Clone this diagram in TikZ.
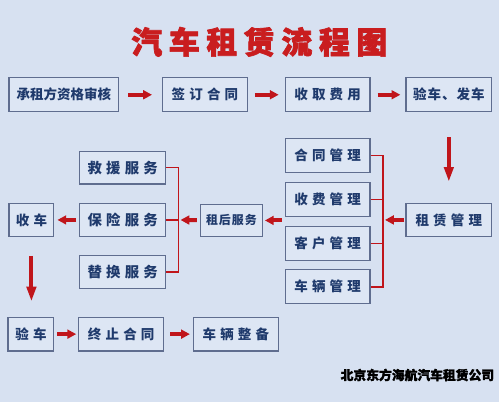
\documentclass[tikz,border=0pt]{standalone}
\usepackage{fontspec}
\setmainfont{Noto Sans CJK SC}
\usetikzlibrary{arrows.meta}
\definecolor{pagebg}{HTML}{D7E1F1}
\definecolor{boxfill}{HTML}{DDE6F4}
\definecolor{boxline}{HTML}{5F6D8F}
\definecolor{boxtext}{HTML}{1F3A6C}
\definecolor{flowred}{HTML}{C0151B}
\definecolor{titlered}{HTML}{C91D1F}
\newcommand{\gp}{\hspace{0.084cm}}
\newcommand{\tg}{\hspace{0.134cm}}
\newcommand{\inkbold}[2]{\special{pdf:literal direct 1 j #1 w 2 Tr}#2\special{pdf:literal direct 0 Tr}}

\begin{document}
\begin{tikzpicture}[
  x=0.02cm, y=-0.02cm,
  stage/.style={rectangle, draw=boxline, fill=boxfill, line width=0.7pt,
                minimum width=1.7cm, minimum height=0.68cm, inner sep=0pt,
                text=boxtext, font=\fontsize{7.7pt}{9pt}\selectfont\bfseries},
  service/.style={stage, minimum width=1.72cm, minimum height=0.66cm,
                  font=\fontsize{8.2pt}{9pt}\selectfont\bfseries},
  headline/.style={font=\fontsize{17.6pt}{20pt}\selectfont\bfseries,
                   text=titlered, inner sep=0pt},
  flow/.style={flowred, line width=2.3pt, -{Triangle[length=5pt, width=5pt]}},
  drop/.style={flowred, line width=2.3pt, -{Triangle[length=8.5pt, width=5.2pt]}},
  bracket/.style={flowred, line width=0.9pt}
]
  \fill[pagebg] (0,0) rectangle (500,403);

  \node[headline] (title) at (260,42)
    {\inkbold{0.4}{汽\tg 车\tg 租\tg 赁\tg 流\tg 程\tg 图}};

  \node[stage, minimum width=2.2cm] (vetting) at (64,95) {承租方资格审核};
  \node[stage] (signing) at (205.5,95) {签\gp 订\gp 合\gp 同};
  \node[stage] (payment) at (328.5,95) {收\gp 取\gp 费\gp 用};
  \node[stage, minimum width=1.72cm] (handover) at (450,95)
    {验\hspace{0.02cm}车\hspace{0.02cm}、\hspace{0.02cm}发\hspace{0.02cm}车};

  \node[stage, minimum width=1.72cm, minimum height=0.66cm] (leasing) at (450,220.5)
    {租\gp 赁\gp 管\gp 理};
  \node[stage] (contract) at (328.5,156) {合\gp 同\gp 管\gp 理};
  \node[stage] (billing) at (328.5,200) {收\gp 费\gp 管\gp 理};
  \node[stage] (clients) at (328.5,244) {客\gp 户\gp 管\gp 理};
  \node[stage] (fleet) at (328.5,287.5) {车\gp 辆\gp 管\gp 理};
  \node[stage, minimum width=1.24cm, minimum height=0.64cm,
        font=\fontsize{6.8pt}{8pt}\selectfont\bfseries] (aftercare) at (232,221)
    {租\hspace{0.02cm}后\hspace{0.02cm}服\hspace{0.02cm}务};

  \node[service] (rescue) at (123,168) {救\gp 援\gp 服\gp 务};
  \node[service] (insurance) at (123,220.5) {保\gp 险\gp 服\gp 务};
  \node[service] (swap) at (123,272.5) {替\gp 换\gp 服\gp 务};
  \node[stage, minimum width=0.9cm, minimum height=0.66cm] (pickup) at (31.5,220.5)
    {收\gp 车};

  \node[stage, minimum width=0.92cm] (inspect) at (31,335) {验\gp 车};
  \node[stage] (closing) at (121.5,335) {终\gp 止\gp 合\gp 同};
  \node[stage] (prep) at (236.5,335) {车\gp 辆\gp 整\gp 备};

  \coordinate (rjoin) at (384,220.5);
  \coordinate (ljoin) at (179,220.5);

  \draw[flow, shorten <=0.18cm, shorten >=0.2cm] (vetting) -- (signing);
  \draw[flow, shorten <=0.14cm, shorten >=0.12cm] (signing) -- (payment);
  \draw[flow, shorten <=0.14cm, shorten >=0.1cm] (payment) -- (handover);
  \draw[drop, shorten <=0.5cm, shorten >=0.42cm] (handover) -- (leasing);

  \draw[flow, shorten <=0.02cm, shorten >=0.04cm] (leasing) -- (rjoin);
  \draw[bracket] (contract.east) -| (rjoin) |- (fleet.east);
  \draw[bracket] (billing.east) -- (billing.east -| rjoin);
  \draw[bracket] (clients.east) -- (clients.east -| rjoin);
  \draw[flow, shorten <=0.06cm, shorten >=0.04cm]
    (aftercare.east -| clients.west) -- (aftercare.east);

  \draw[flow, shorten <=0.06cm, shorten >=0.04cm] (aftercare) -- (ljoin);
  \draw[bracket] (rescue.east) -| (ljoin) |- (swap.east);
  \draw[bracket] (insurance.east) -- (ljoin);
  \draw[flow, shorten <=0.06cm, shorten >=0.06cm] (insurance) -- (pickup);

  \draw[drop, shorten <=0.38cm, shorten >=0.3cm]
    (pickup.south) -- (pickup.south |- inspect.north);
  \draw[flow, shorten <=0.06cm, shorten >=0.04cm] (inspect) -- (closing);
  \draw[flow, shorten <=0.12cm, shorten >=0.06cm] (closing) -- (prep);

  \node[font=\fontsize{7.3pt}{8pt}\selectfont\bfseries] (company) at (418.5,376)
    {\inkbold{0.12}{北京东方海航汽车租赁公司}};
\end{tikzpicture}
\end{document}
